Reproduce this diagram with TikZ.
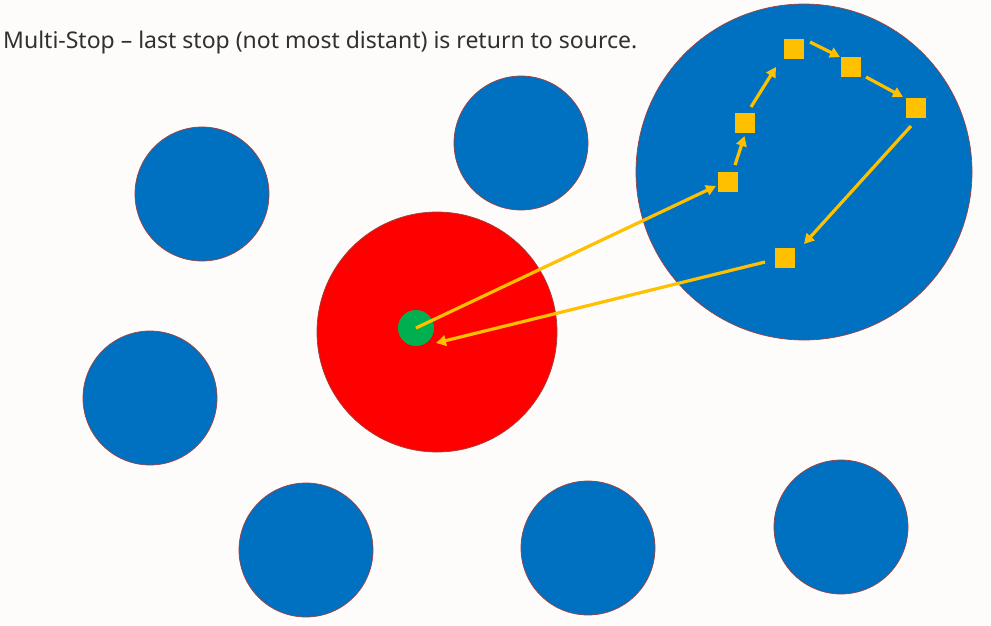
\documentclass[tikz,border=0pt]{standalone}
\usepackage{fontspec}
\setmainfont{Noto Sans}
\usetikzlibrary{arrows.meta}
\definecolor{bg}{HTML}{FDFCFB}
\definecolor{cblue}{HTML}{0070C0}
\definecolor{cred}{HTML}{FF0000}
\definecolor{cgreen}{HTML}{00B050}
\definecolor{cyel}{HTML}{FFC000}
\definecolor{cedge}{HTML}{A0403A}
\definecolor{ctext}{HTML}{303030}
\begin{document}
\begin{tikzpicture}[x=1pt,y=-1pt,
  zone/.style={circle,draw=cedge,line width=0.7pt,fill=cblue,inner sep=0pt,minimum size=#1},
  redzone/.style={circle,draw=cedge,line width=0.7pt,fill=cred,inner sep=0pt,minimum size=#1},
  src/.style={circle,fill=cgreen,draw=none,inner sep=0pt,minimum size=36pt},
  stopbox/.style={rectangle,fill=cyel,draw=none,inner sep=0pt,minimum size=20pt},
  arr/.style={draw=cyel,line width=3.2pt,-{Triangle[length=10pt,width=10.5pt]}}]
\fill[bg] (0,0) rectangle (991,625);
\useasboundingbox (0,0) rectangle (991,625);
\node[anchor=base west,text=ctext,font=\fontsize{23}{27}\selectfont,inner sep=0pt] (title) at (3,48.5)
  {Multi-Stop – last stop (not most distant) is return to source.};
\node[zone=134pt] (c1) at (202,194) {};
\node[zone=134pt] (c2) at (521,143) {};
\node[zone=134pt] (c3) at (150,398) {};
\node[zone=134pt] (c4) at (306,550) {};
\node[zone=134pt] (c5) at (588,548) {};
\node[zone=134pt] (c6) at (841,527) {};
\node[redzone=240pt] (red) at (437,332) {};
\node[zone=336pt] (big) at (804,172) {};
\node[src] (g) at (416,328) {};
\node[stopbox] (s1) at (728,182) {};
\node[stopbox] (s2) at (745,123) {};
\node[stopbox] (s3) at (794,49) {};
\node[stopbox] (s4) at (851,67) {};
\node[stopbox] (s5) at (916,108) {};
\node[stopbox] (s6) at (785,258) {};
\draw[arr] (g.center) -- ([shift={(-12,4)}]s1.center);
\draw[arr] ([shift={(7,-17)}]s1.center) -- ([shift={(-0.5,13)}]s2.center);
\draw[arr] ([shift={(6,-16)}]s2.center) -- ([shift={(-18,18)}]s3.center);
\draw[arr] ([shift={(16,-7)}]s3.center) -- ([shift={(-11,-10)}]s4.center);
\draw[arr] ([shift={(15,10)}]s4.center) -- ([shift={(-13,-11)}]s5.center);
\draw[arr] ([shift={(-5,18)}]s5.center) -- ([shift={(19,-14)}]s6.center);
\draw[arr] ([shift={(-20,4)}]s6.center) -- ([shift={(20,15)}]g.center);
\end{tikzpicture}
\end{document}
